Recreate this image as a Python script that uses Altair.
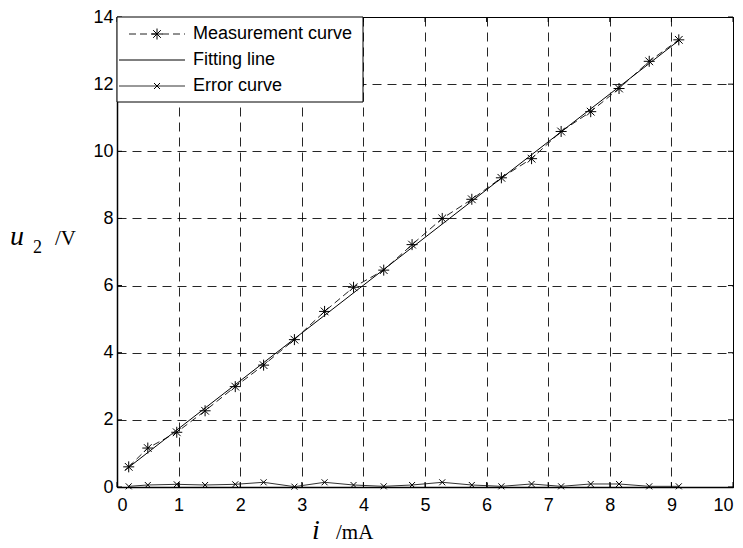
import altair as alt
import pandas as pd

# ---- data ----
i_mA = [0.19, 0.50, 0.97, 1.43, 1.92, 2.38, 2.88, 3.37, 3.84, 4.33,
        4.79, 5.28, 5.76, 6.24, 6.73, 7.21, 7.69, 8.15, 8.64, 9.12]
u_meas = [0.60, 1.16, 1.63, 2.27, 2.99, 3.63, 4.39, 5.23, 5.95, 6.46,
          7.22, 8.00, 8.57, 9.21, 9.78, 10.59, 11.18, 11.87, 12.68, 13.32]
u_err = [0.02, 0.06, 0.08, 0.06, 0.08, 0.14, 0.01, 0.14, 0.06, 0.02,
         0.06, 0.14, 0.06, 0.02, 0.09, 0.02, 0.09, 0.09, 0.02, 0.02]
fit_x = [0.13, 9.12]
fit_y = [0.50, 13.30]
x_ticks = [0, 1, 2, 3, 4, 5, 6, 7, 8, 9, 10]
y_ticks = [0, 2, 4, 6, 8, 10, 12, 14]
legend_labels = ["Measurement curve", "Fitting line", "Error curve"]

W, H = 616, 470
TOP = 9
SANS = "Liberation Sans"
SERIF = "Liberation Serif"
STAR = "M-1,0L1,0M0,-1L0,1M-0.7,-0.7L0.7,0.7M-0.7,0.7L0.7,-0.7"
XMARK = "M-1,-1L1,1M-1,1L1,-1"

meas = pd.DataFrame({"x": i_mA, "y": u_meas})
err = pd.DataFrame({"x": i_mA, "y": u_err})
fit = pd.DataFrame({"x": fit_x, "y": fit_y})
xt = pd.DataFrame({"t": x_ticks})
yt = pd.DataFrame({"t": y_ticks})

xs = alt.Scale(domain=[0, 10], nice=False, zero=False)
ys = alt.Scale(domain=[0, 14], nice=False, zero=False)

xaxis = alt.Axis(values=x_ticks, format="d", title=None, ticks=False, labelFontSize=18,
                 labelFont=SANS, labelColor="black", labelPadding=9,
                 domainColor="black", domainWidth=1.5, grid=True,
                 gridColor="black", gridDash=[9, 6], gridWidth=1, gridOpacity=0.85)
yaxis = alt.Axis(values=y_ticks, format="d", title=None, ticks=False, labelFontSize=18,
                 labelFont=SANS, labelColor="black", labelPadding=4,
                 domainColor="black", domainWidth=1.5, grid=True,
                 gridColor="black", gridDash=[9, 6], gridWidth=1, gridOpacity=0.85)

base_meas = alt.Chart(meas)
meas_line = base_meas.mark_line(color="#222", strokeWidth=1, strokeDash=[7, 4]).encode(
    x=alt.X("x:Q", scale=xs, axis=xaxis), y=alt.Y("y:Q", scale=ys, axis=yaxis))
meas_pts = base_meas.mark_point(shape=STAR, filled=False, stroke="black",
                                strokeWidth=1, size=121, opacity=1).encode(
    x=alt.X("x:Q", scale=xs), y=alt.Y("y:Q", scale=ys))

fit_line = alt.Chart(fit).mark_line(color="black", strokeWidth=1).encode(
    x=alt.X("x:Q", scale=xs), y=alt.Y("y:Q", scale=ys))

err_line = alt.Chart(err).mark_line(color="#333", strokeWidth=1).encode(
    x=alt.X("x:Q", scale=xs), y=alt.Y("y:Q", scale=ys))
err_pts = alt.Chart(err).mark_point(shape=XMARK, filled=False, stroke="black",
                                    strokeWidth=1, size=36, opacity=1).encode(
    x=alt.X("x:Q", scale=xs), y=alt.Y("y:Q", scale=ys))

# inward ticks (MATLAB style)
tick_b = alt.Chart(xt).mark_rule(color="black", strokeWidth=1).encode(
    x=alt.X("t:Q", scale=xs), y=alt.value(H), y2=alt.value(H - 5))
tick_t = alt.Chart(xt).mark_rule(color="black", strokeWidth=1).encode(
    x=alt.X("t:Q", scale=xs), y=alt.value(0), y2=alt.value(5))
tick_l = alt.Chart(yt).mark_rule(color="black", strokeWidth=1).encode(
    y=alt.Y("t:Q", scale=ys), x=alt.value(0), x2=alt.value(5))
tick_r = alt.Chart(yt).mark_rule(color="black", strokeWidth=1).encode(
    y=alt.Y("t:Q", scale=ys), x=alt.value(W), x2=alt.value(W - 5))

one = alt.Data(values=[{}])

# legend box
leg_box = alt.Chart(one).mark_rect(fill="white", stroke="black", strokeWidth=1).encode(
    x=alt.value(0), x2=alt.value(246), y=alt.value(0), y2=alt.value(85))
rows = [17, 43, 69]
leg_layers = [leg_box]
# measurement entry
leg_layers.append(alt.Chart(one).mark_rule(color="#222", strokeWidth=1, strokeDash=[7, 4]).encode(
    x=alt.value(12), x2=alt.value(68), y=alt.value(rows[0])))
leg_layers.append(alt.Chart(one).mark_point(shape=STAR, filled=False, stroke="black",
                                            strokeWidth=1, size=121, opacity=1).encode(
    x=alt.value(40), y=alt.value(rows[0])))
# fitting entry
leg_layers.append(alt.Chart(one).mark_rule(color="black", strokeWidth=1).encode(
    x=alt.value(2), x2=alt.value(68), y=alt.value(rows[1])))
# error entry
leg_layers.append(alt.Chart(one).mark_rule(color="#333", strokeWidth=1).encode(
    x=alt.value(2), x2=alt.value(68), y=alt.value(rows[2])))
leg_layers.append(alt.Chart(one).mark_point(shape=XMARK, filled=False, stroke="black",
                                            strokeWidth=1, size=36, opacity=1).encode(
    x=alt.value(40), y=alt.value(rows[2])))
for lab, ry in zip(legend_labels, rows):
    leg_layers.append(alt.Chart(one).mark_text(align="left", baseline="middle",
                                               font=SANS, fontSize=18, color="black").encode(
        x=alt.value(76), y=alt.value(ry), text=alt.value(lab)))

# axis titles (italic symbol + unit)
titles = [
    alt.Chart(one).mark_text(align="left", baseline="alphabetic", font=SERIF,
                             fontStyle="italic", fontSize=28, color="black").encode(
        x=alt.value(195), y=alt.value(522), text=alt.value("i")),
    alt.Chart(one).mark_text(align="left", baseline="alphabetic", font=SERIF,
                             fontSize=21, color="black").encode(
        x=alt.value(219), y=alt.value(522), text=alt.value("/mA")),
    alt.Chart(one).mark_text(align="left", baseline="alphabetic", font=SERIF,
                             fontStyle="italic", fontSize=28, color="black").encode(
        x=alt.value(-107), y=alt.value(228), text=alt.value("u")),
    alt.Chart(one).mark_text(align="left", baseline="alphabetic", font=SERIF,
                             fontSize=18, color="black").encode(
        x=alt.value(-84), y=alt.value(236), text=alt.value("2")),
    alt.Chart(one).mark_text(align="left", baseline="alphabetic", font=SERIF,
                             fontSize=21, color="black").encode(
        x=alt.value(-62), y=alt.value(228), text=alt.value("/V")),
]

chart = alt.layer(
    meas_line, fit_line, meas_pts, err_line, err_pts,
    tick_b, tick_t, tick_l, tick_r,
    *leg_layers, *titles
).properties(
    width=W, height=H,
    autosize=alt.AutoSizeParams(type="none"),
    padding={"left": 109, "top": TOP, "right": 2, "bottom": 60},
    background="white",
).configure_view(stroke="black", strokeWidth=1)

chart.save("out.html", embed_options={"renderer": "svg", "actions": False})
